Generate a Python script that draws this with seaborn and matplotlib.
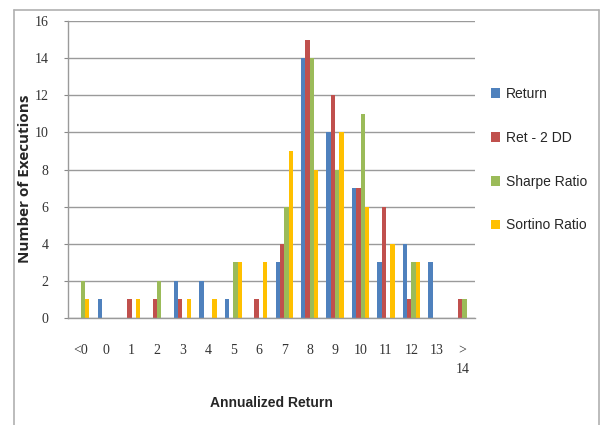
import matplotlib
matplotlib.use("Agg")
import matplotlib.pyplot as plt
from matplotlib.lines import Line2D
import seaborn as sns
import pandas as pd

# Histogram of annualized return per ranking criterion
categories = ["<0", "0", "1", "2", "3", "4", "5", "6", "7", "8", "9", "10", "11", "12", "13", ">\n14"]
ret = [0, 1, 0, 0, 2, 2, 1, 0, 3, 14, 10, 7, 3, 4, 3, 0]
ret_2dd = [0, 0, 1, 1, 1, 0, 0, 1, 4, 15, 12, 7, 6, 1, 0, 1]
sharpe = [2, 0, 0, 2, 0, 0, 3, 0, 6, 14, 8, 11, 0, 3, 0, 1]
sortino = [1, 0, 1, 0, 1, 1, 3, 3, 9, 8, 10, 6, 4, 3, 0, 0]
series_names = ["Return", "Ret - 2 DD", "Sharpe Ratio", "Sortino Ratio"]
y_ticks = [0, 2, 4, 6, 8, 10, 12, 14, 16]

colors = ["#4F81BD", "#C0504D", "#9BBB59", "#FFC000"]

frames = []
for name, vals in zip(series_names, [ret, ret_2dd, sharpe, sortino]):
    frames.append(pd.DataFrame({"bucket": categories, "count": vals, "criterion": name}))
df = pd.concat(frames, ignore_index=True)

sns.set_style("white")
sans = ["Liberation Sans", "DejaVu Sans"]
wide_sans = ["Open Sans", "DejaVu Sans"]
serif = ["Liberation Serif", "DejaVu Serif"]

fig = plt.figure(figsize=(6, 4.25), dpi=100)
ax = fig.add_axes([68 / 600, 1 - 318 / 425, (475 - 68) / 600, (318 - 21) / 425])

sns.barplot(data=df, x="bucket", y="count", hue="criterion", order=categories,
            hue_order=series_names, palette=colors, width=0.68, gap=0,
            saturation=1, ax=ax, errorbar=None, linewidth=0)

ax.set_ylim(0, 16)
ax.set_yticks(y_ticks)
ax.set_yticklabels([str(t) for t in y_ticks], family=serif, fontsize=10, color="#333333")
ax.set_xticks(range(len(categories)))
ax.set_xticklabels(categories, family=serif, fontsize=10, color="#333333")
ax.get_xticklabels()[-1].set_linespacing(1.6)
ax.tick_params(axis="x", length=0, pad=19)
ax.tick_params(axis="y", length=3, width=0.8, color="#888888", pad=11, direction="out", left=True)
ax.yaxis.grid(True, color="#9a9a9a", linewidth=1.0)
ax.set_axisbelow(True)
for side in ["top", "right"]:
    ax.spines[side].set_visible(False)
for side in ["left", "bottom"]:
    ax.spines[side].set_color("#9a9a9a")
    ax.spines[side].set_linewidth(1.0)

ax.set_xlabel("Annualized Return", family=sans, fontsize=10, fontweight="bold", labelpad=14)
ax.set_ylabel("Number of Executions", family=wide_sans, fontsize=11, fontweight="bold")
ax.yaxis.set_label_coords(-0.105, 0.47)
ax.yaxis.label.set_verticalalignment("center")

handles, labels = ax.get_legend_handles_labels()
ax.legend(handles, labels, loc="upper left", bbox_to_anchor=(1.025, 0.797),
          frameon=False, prop={"family": sans, "size": 10},
          handlelength=0.7, handleheight=0.7, handletextpad=0.4, labelspacing=2.15,
          borderaxespad=0)

# Chart border
edge = "#b0b0b0"
fig.add_artist(Line2D([14 / 600, 14 / 600], [0, 1 - 10 / 425], transform=fig.transFigure, color=edge, lw=1.2))
fig.add_artist(Line2D([14 / 600, 598.5 / 600], [1 - 10 / 425, 1 - 10 / 425], transform=fig.transFigure, color=edge, lw=1.2))
fig.add_artist(Line2D([598.5 / 600, 598.5 / 600], [0, 1 - 10 / 425], transform=fig.transFigure, color=edge, lw=1.2))

fig.savefig("out.png", dpi=100)
